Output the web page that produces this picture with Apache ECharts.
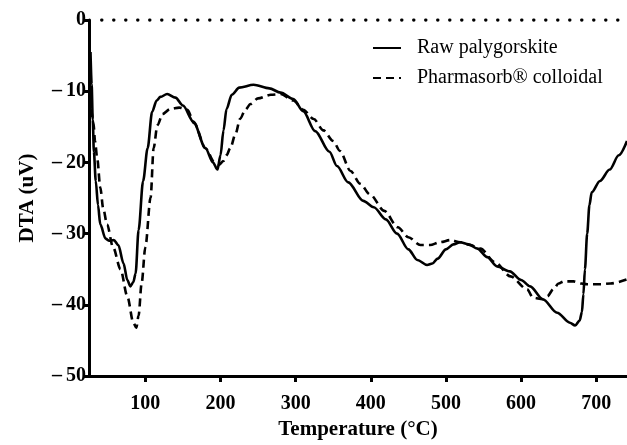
<!DOCTYPE html>
<html>
<head>
<meta charset="utf-8">
<script src="https://cdn.jsdelivr.net/npm/echarts@6/dist/echarts.min.js"></script>
<style>html,body{margin:0;padding:0;background:#fff;}#c{width:627px;height:445px;}</style>
</head>
<body>
<div id="c"></div>
<script>
const seriesNames = ['Raw palygorskite', 'Pharmasorb\u00AE colloidal'];
const xTicks = [100, 200, 300, 400, 500, 600, 700];
const yTicks = [-50, -40, -30, -20, -10, 0];

const rawT = [27, 28.5, 30, 31.5, 34, 37, 40, 47, 52, 58, 64, 71, 76, 80, 84, 87, 91, 97, 103, 109, 115, 120, 129, 140, 150, 164, 180, 190, 196, 200, 204, 208, 215, 225, 244, 265, 280, 297, 310, 326, 345, 355, 370, 390, 404, 420, 435, 450, 462, 475, 482, 489, 500, 510, 519, 530, 542, 555, 568, 585, 600, 612, 629, 648, 665, 672, 678, 681, 683, 685, 688, 691, 694, 705, 718, 730, 741];
const rawV = [-4.5, -9, -14, -18.5, -22.6, -26, -28.7, -30.7, -31, -30.9, -31.6, -34.2, -36.5, -37.4, -36.8, -35.6, -29.5, -22.6, -18, -12.9, -11.3, -10.8, -10.4, -10.9, -12, -14.3, -18, -20, -21, -19, -15.5, -12.5, -10.5, -9.5, -9.1, -9.6, -10.2, -11.1, -12.8, -15.6, -18.5, -20.5, -22.8, -25.4, -26.3, -28, -30, -32.2, -33.7, -34.4, -34.2, -33.5, -32.2, -31.5, -31.2, -31.5, -32.1, -33.3, -34.6, -35.3, -36.5, -37.4, -39.2, -41.1, -42.5, -42.9, -42.2, -41, -38.5, -35, -30, -26, -24.2, -22.6, -21, -19, -17];

const pharmT = [28, 31, 33, 36, 40, 44, 49, 57, 67, 76, 84, 88, 91, 95, 100, 107, 111, 116, 123, 133, 145, 156, 165, 180, 192, 198, 204, 208, 213, 220, 226, 233, 240, 250, 267, 280, 297, 310, 324, 337, 350, 359, 373, 386, 399, 418, 436, 450, 466, 479, 492, 506, 519, 532, 546, 565, 586, 608, 616, 629, 635, 643, 650, 657, 670, 680, 688, 706, 719, 741];
const pharmV = [-12.5, -14.5, -17, -19.5, -23.5, -26.5, -28.7, -31.9, -35, -38.8, -42.5, -43.2, -41.5, -37, -31.9, -24.9, -18, -14.8, -13.2, -12.5, -12.3, -12.6, -14.5, -18, -20, -20.3, -19.8, -19, -18, -16, -13.9, -12.6, -11.8, -11, -10.5, -10.4, -11.3, -12.6, -13.9, -15.5, -17, -18.4, -21.2, -23, -24.5, -26.8, -29.1, -30.5, -31.6, -31.6, -31.2, -30.9, -31.2, -31.6, -32.1, -34, -36, -37.8, -39, -39.2, -38.8, -37.8, -37, -36.7, -36.7, -37, -37.1, -37.1, -37, -36.4];

const baseT = [42, 741];
const baseV = [0, 0];

const zip = (a, b) => a.map((v, i) => [v, b[i]]);
const font = 'Liberation Serif';

const chart = echarts.init(document.getElementById('c'));
chart.setOption({
  animation: false,
  backgroundColor: '#fff',
  grid: { left: 89, right: 0, top: 20, bottom: 64, containLabel: false },
  legend: {
    data: seriesNames,
    orient: 'vertical',
    left: 367, top: 33,
    itemWidth: 28, itemHeight: 14, itemGap: 10,
    itemStyle: { opacity: 0 },
    textStyle: { fontFamily: font, fontSize: 20, color: '#000', padding: [0,0,0,11] }
  },
  xAxis: {
    type: 'value', min: 25, max: 741,
    name: 'Temperature (\u00B0C)', nameLocation: 'middle', nameGap: 42,
    nameTextStyle: { fontFamily: font, fontSize: 21, fontWeight: 'bold', color: '#000' },
    axisLine: { show: true, onZero: false, lineStyle: { color: '#000', width: 3 } },
    axisTick: { show: true, length: 6, lineStyle: { color: '#000', width: 3 }, customValues: xTicks },
    axisLabel: { fontFamily: font, fontSize: 20, fontWeight: 'bold', color: '#000', margin: 18, customValues: xTicks },
    splitLine: { show: false }
  },
  yAxis: {
    type: 'value', min: -50, max: 0, interval: 10,
    name: 'DTA (uV)', nameLocation: 'middle', nameGap: 51, nameRotate: 90,
    nameTextStyle: { fontFamily: font, fontSize: 21, fontWeight: 'bold', color: '#000' },
    axisLine: { show: true, onZero: false, lineStyle: { color: '#000', width: 3 } },
    axisTick: { show: true, length: 5, lineStyle: { color: '#000', width: 3 } },
    axisLabel: {
      fontFamily: font, fontSize: 20, fontWeight: 'bold', color: '#000', margin: 3,
      formatter: v => v < 0 ? '\u2013\u2009' + Math.abs(v) : String(v)
    },
    splitLine: { show: false }
  },
  series: [
    {
      name: seriesNames[0], type: 'line', data: zip(rawT, rawV),
      showSymbol: false, symbol: 'none', smooth: 0.3, smoothMonotone: 'x',
      lineStyle: { color: '#000', width: 2.6 }, itemStyle: { color: '#000' }, z: 3
    },
    {
      name: seriesNames[1], type: 'line', data: zip(pharmT, pharmV),
      showSymbol: false, symbol: 'none', smooth: 0.3, smoothMonotone: 'x',
      lineStyle: { color: '#000', width: 2.6, type: [8, 5] }, itemStyle: { color: '#000' }, z: 3
    },
    {
      name: 'baseline', type: 'line', data: zip(baseT, baseV),
      showSymbol: false, symbol: 'none', silent: true,
      lineStyle: { color: '#000', width: 3.5, type: [0, 12], cap: 'round' }, z: 2
    }
  ]
});
</script>
</body>
</html>
